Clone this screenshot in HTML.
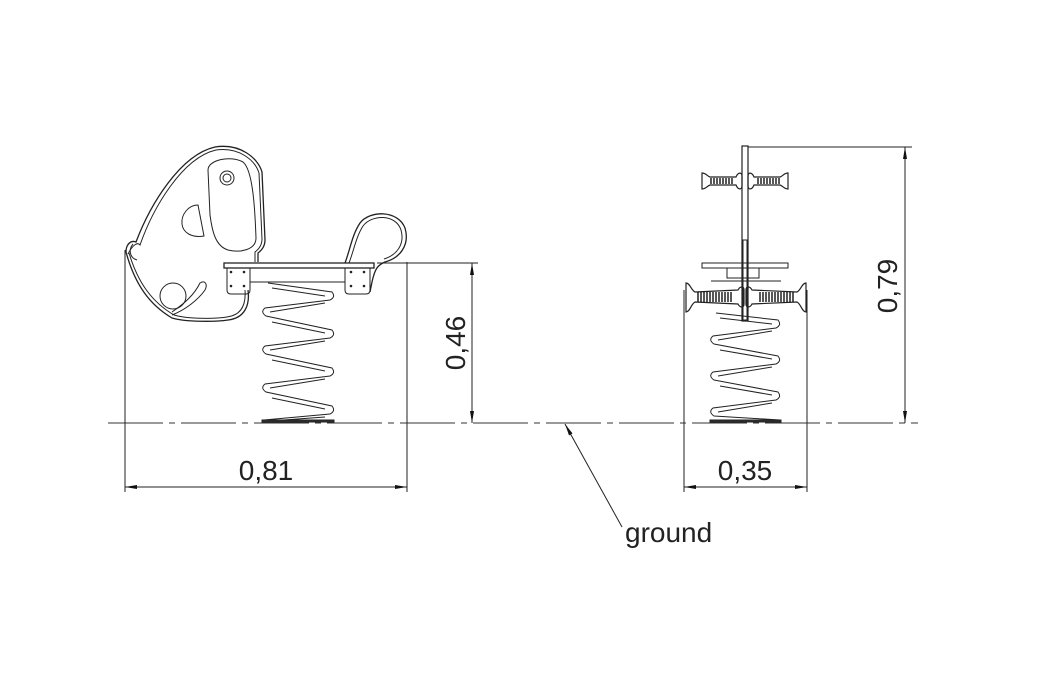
<!DOCTYPE html>
<html><head><meta charset="utf-8"><style>
html,body{margin:0;padding:0;background:#fff;width:1047px;height:679px;overflow:hidden}
svg{display:block}
text{font-family:"Liberation Sans",sans-serif;fill:#222}
</style></head><body>
<svg width="1047" height="679" viewBox="0 0 1047 679" xmlns="http://www.w3.org/2000/svg">
<defs>
<marker id="a" markerWidth="12" markerHeight="6" refX="12" refY="3" orient="auto-start-reverse" markerUnits="userSpaceOnUse"><path d="M0,1 L12,3 L0,5z" fill="#111"/></marker>
</defs>
<g stroke="#222" fill="none" stroke-width="1">
<line x1="108" y1="423" x2="918" y2="423" stroke-dasharray="55,6,6,6" stroke="#333"/>
<line x1="125" y1="250" x2="125" y2="492"/>
<line x1="407" y1="262" x2="407" y2="492"/>
<line x1="125" y1="487" x2="407" y2="487" marker-start="url(#a)" marker-end="url(#a)"/>
<line x1="377" y1="263" x2="478" y2="263"/>
<line x1="472" y1="263" x2="472" y2="423" marker-start="url(#a)" marker-end="url(#a)"/>
<line x1="684" y1="290" x2="684" y2="492"/>
<line x1="807" y1="290" x2="807" y2="492"/>
<line x1="684" y1="487" x2="807" y2="487" marker-start="url(#a)" marker-end="url(#a)"/>
<line x1="748" y1="147" x2="912" y2="147"/>
<line x1="905" y1="147" x2="905" y2="423" marker-start="url(#a)" marker-end="url(#a)"/>
<line x1="622" y1="527" x2="565" y2="424" marker-end="url(#a)"/>

<path d="M126,252 C126,244 131,240 136,242 C150,205 180,155 215,147 C240,143 258,158 262,172 L265,240 C265,246 262,250 258,253 L258,262" stroke-width="1.3"/>
<path d="M128,254 C133,244 138,242 140,245 C153,208 182,158 216,150 C239,147 255,160 259,173 L262,239 C262,245 259,249 255,252 L255,262"/>
<path d="M126,252 C135,285 150,305 172,318 C185,322 215,322 228,320 C245,318 250,305 248,290" stroke-width="1.3"/>
<path d="M129,253 C138,283 152,302 174,315 C187,319 214,319 227,317 C243,315 246,303 245,290"/>
<path d="M133,244 C128,250 130,258 137,260" />
<path d="M208,170 C208,160 230,155 243,162 C253,170 255,210 256,238 C256,250 240,253 228,250 C215,246 212,230 210,215 Z"/>
<circle cx="227" cy="178" r="7"/><circle cx="227" cy="178" r="4"/>
<path d="M198,205 C188,205 181,215 182,224 C183,233 192,238 204,236 Z"/>
<circle cx="173" cy="296" r="13"/>
<path d="M172,315 C185,310 198,300 205,290 C208,284 205,280 200,283 C194,295 185,303 172,312"/>
<rect x="224" y="263" width="150" height="5" stroke-width="1.3"/>
<line x1="250" y1="268" x2="250" y2="282"/><line x1="345" y1="268" x2="345" y2="282"/>
<line x1="250" y1="282" x2="345" y2="282"/>
<path d="M227,268 L250,268 L250,290 Q250,294 246,294 L231,294 Q227,294 227,290 Z"/>
<path d="M345,268 L370,268 L370,290 Q370,294 366,294 L349,294 Q345,294 345,290 Z"/>
<g fill="#222" stroke="none"><circle cx="231" cy="272" r="1.3"/><circle cx="244" cy="272" r="1.3"/><circle cx="231" cy="286" r="1.3"/><circle cx="244" cy="286" r="1.3"/>
<circle cx="351" cy="272" r="1.3"/><circle cx="364" cy="272" r="1.3"/><circle cx="351" cy="286" r="1.3"/><circle cx="364" cy="286" r="1.3"/></g>
<path d="M345,263 C350,250 352,235 360,223 C370,210 398,210 405,228 C410,245 400,258 385,262 C378,265 375,268 372,282 L370,292" stroke-width="1.3"/>
<path d="M349,263 C354,250 356,237 363,226 C372,214 396,214 401,230 C405,244 397,255 384,259"/>
<path d="M268,283 L332,292 Q336,297 330,300 L265,308 Q260,312 266,316 L332,330 Q336,335 330,338 L265,346 Q260,350 266,354 L332,368 Q336,373 330,376 L265,384 Q260,388 266,392 L332,406 Q336,411 330,414 L264,420"/>
<path d="M272,288 L325,296 M325,303 L270,312 M272,322 L325,333 M325,341 L270,350 M272,360 L325,371 M325,379 L270,388 M272,398 L325,409 M325,417 L270,421"/>
<rect x="262" y="420" width="72" height="2" fill="#333"/>

<rect x="742" y="146" width="6" height="175" stroke-width="1.2"/>
<rect x="743" y="240" width="4" height="80"/>
<path d="M702,173 C706,173 707,176 710,177 L736,177 C738,172 742,172 742,176 L742,186 C742,190 738,190 736,185 L710,185 C707,186 706,189 702,189 Z" stroke-width="1.2"/>
<path d="M788,173 C784,173 783,176 780,177 L754,177 C752,172 748,172 748,176 L748,186 C748,190 752,190 754,185 L780,185 C783,186 784,189 788,189 Z" stroke-width="1.2"/>
<path d="M711,178v6M714,178v6M717,178v6M720,178v6M723,178v6M726,178v6M729,178v6M732,178v6M758,178v6M761,178v6M764,178v6M767,178v6M770,178v6M773,178v6M776,178v6M779,178v6" stroke="#111" stroke-width="1.4"/>
<rect x="702" y="263" width="86" height="5"/>
<path d="M727,268 v10 h32 v-10 M711,281 h70"/>
<path d="M686,283 C690,283 691,290 695,292 L738,290 C740,286 744,286 744,290 L744,304 C744,308 740,308 738,304 L695,302 C691,304 690,312 686,312 Z" stroke-width="1.2"/>
<path d="M806,283 C802,283 801,290 797,292 L752,290 C750,286 746,286 746,290 L746,304 C746,308 750,308 752,304 L797,302 C801,304 802,312 806,312 Z" stroke-width="1.2"/>
<path d="M698,292v10M701,292v10M704,292v10M707,292v10M710,292v10M713,292v10M716,292v10M719,292v10M722,292v10M725,292v10M728,292v10M731,292v10M760,292v10M763,292v10M766,292v10M769,292v10M772,292v10M775,292v10M778,292v10M781,292v10M784,292v10M787,292v10M790,292v10M793,292v10" stroke="#111" stroke-width="1.4"/>
<path d="M716,313 L778,320 Q782,325 776,328 L713,336 Q708,340 714,344 L778,356 Q782,361 776,364 L713,372 Q708,376 714,380 L778,392 Q782,397 776,400 L713,408 Q708,412 714,416 L780,420"/>
<path d="M720,318 L772,324 M772,331 L718,340 M720,350 L772,359 M772,367 L718,376 M720,386 L772,395 M772,403 L718,412"/>
<rect x="710" y="420" width="71" height="2" fill="#333"/>
</g>
<text x="266" y="480" font-size="28" text-anchor="middle">0,81</text>
<text x="745" y="480" font-size="28" text-anchor="middle">0,35</text>
<text transform="translate(465,343) rotate(-90)" font-size="28" text-anchor="middle">0,46</text>
<text transform="translate(897,286) rotate(-90)" font-size="28" text-anchor="middle">0,79</text>
<text x="625" y="542" font-size="28">ground</text>
</svg>
</body></html>
